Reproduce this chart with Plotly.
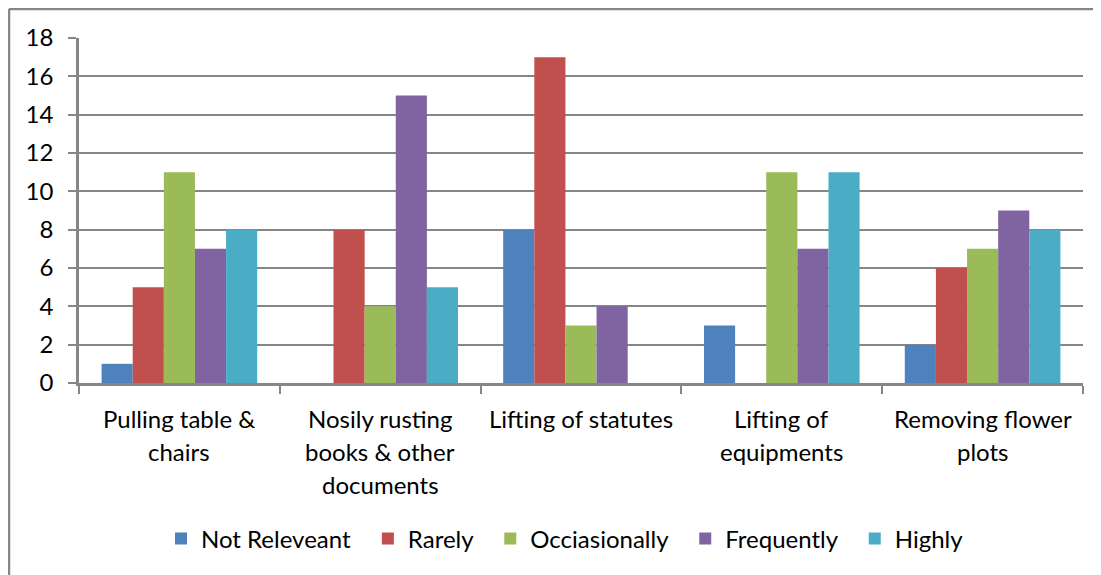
import plotly.graph_objects as go

categories = ["Pulling table &<br>chairs", "Nosily rusting<br>books & other<br>documents",
              "Lifting of statutes", "Lifting of<br>equipments", "Removing flower<br>plots"]
series_names = ["Not Releveant", "Rarely", "Occiasionally", "Frequently", "Highly"]
not_relevant = [1, 0, 8, 3, 2]
rarely = [5, 8, 17, 0, 6]
occasionally = [11, 4, 3, 11, 7]
frequently = [7, 15, 4, 7, 9]
highly = [8, 5, 0, 11, 8]
y_ticks = [0, 2, 4, 6, 8, 10, 12, 14, 16, 18]

colors = ["#4F81BD", "#C0504D", "#9BBB59", "#8064A2", "#4BACC6"]
values = [not_relevant, rarely, occasionally, frequently, highly]

W, H = 1101, 575
OFF = 8  # page body margin offset
ML, MR, MT, MB = 79 - OFF, 18 + OFF, 38 - OFF, 192 + OFF
FONT = "Lato"
FS = 24
GRID = "#868686"

fig = go.Figure()
for idx, (name, vals, col) in enumerate(zip(series_names, values, colors)):
    label = name if idx == len(series_names) - 1 else name + "\u00a0\u00a0"
    fig.add_trace(go.Bar(name=label, x=categories, y=vals, marker_color=col,
                         marker_line_width=0))

# category labels as annotations (to control line spacing)
for cat in categories:
    for i, line in enumerate(cat.split("<br>")):
        fig.add_annotation(x=cat, xref="x", y=0, yref="paper", text=line,
                           showarrow=False, yanchor="middle", yshift=-(35 + 33 * i),
                           font=dict(family=FONT, size=FS, color="black"))

pw = W - ML - MR
ph = H - MT - MB
def px_x(p):
    return (p - OFF - ML) / pw
def px_y(p):
    return (H - MB - (p - OFF)) / ph

fig.add_shape(type="line", xref="paper", yref="paper", x0=px_x(9), x1=px_x(1200),
              y0=px_y(9), y1=px_y(9), line=dict(color=GRID, width=2.5))
fig.add_shape(type="line", xref="paper", yref="paper", x0=px_x(9), x1=px_x(9),
              y0=px_y(9), y1=px_y(700), line=dict(color=GRID, width=2.5))

fig.update_layout(
    width=W, height=H,
    margin=dict(l=ML, r=MR, t=MT, b=MB, autoexpand=False),
    paper_bgcolor="white", plot_bgcolor="white",
    barmode="group", bargap=0.225, bargroupgap=0,
    font=dict(family=FONT, size=FS, color="black"),
    showlegend=True,
    legend=dict(orientation="h", x=px_x(565), xanchor="center", y=px_y(539), yanchor="middle",
                font=dict(family=FONT, size=FS, color="black"), itemwidth=30,
                traceorder="normal"),
    xaxis=dict(showticklabels=False, ticks="outside", tickson="boundaries", ticklen=8,
               tickcolor=GRID, tickwidth=2, showline=True, linecolor=GRID, linewidth=2.5,
               showgrid=False, zeroline=False, range=[-0.5, 4.5]),
    yaxis=dict(range=[0, 18], tickvals=y_ticks, ticks="outside", ticklen=8, tickcolor=GRID,
               tickwidth=2, showline=True, linecolor=GRID, linewidth=2.5, showgrid=True,
               gridcolor=GRID, gridwidth=2, zeroline=False, ticklabelstandoff=10,
               tickfont=dict(family=FONT, size=FS, color="black")),
)

fig.write_html("out.html")
